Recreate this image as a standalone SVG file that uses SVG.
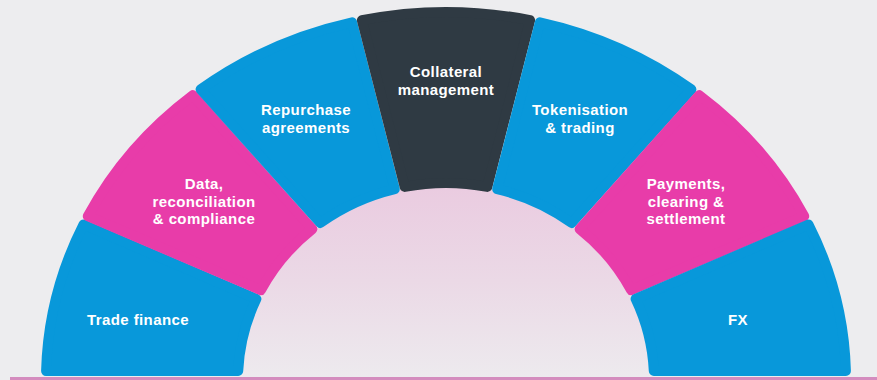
<svg xmlns="http://www.w3.org/2000/svg" width="877" height="380" viewBox="0 0 877 380">
  <defs>
    <linearGradient id="core" x1="0" y1="0" x2="0" y2="1">
      <stop offset="0" stop-color="#EACBE0"/>
      <stop offset="0.5" stop-color="#EBD9E6"/>
      <stop offset="1" stop-color="#EDEAEE"/>
    </linearGradient>
  </defs>
  <style>
    .seg { stroke-width: 10; stroke-linejoin: round; }
    .blue { fill: #0898DA; stroke: #0898DA; }
    .pink { fill: #E83CA9; stroke: #E83CA9; }
    .dark { fill: #2F3A43; stroke: #2F3A43; }
    .lbl { font-family: "Liberation Sans", Arial, sans-serif; font-weight: 700; font-size: 15px; letter-spacing: 0.4px; fill: #FFFFFF; text-anchor: middle; }
  </style>
  <rect x="0" y="0" width="877" height="380" fill="#EDEDEF"/>
  <path d="M 243 377 A 203 192 0 0 1 649 377 Z" fill="url(#core)"/>
  <rect x="10" y="377" width="867" height="3" fill="#D48CBE"/>

  <g id="trade-finance">
    <path class="seg blue" d="M 256.4 298.9 L 83.5 224.5 A 400 368 0 0 0 46.1 371 L 238.2 371 A 208 197 0 0 1 256.4 298.9 Z"/>
    <text class="lbl" x="138" y="325">Trade finance</text>
  </g>
  <g id="data-reconciliation">
    <path class="seg pink" d="M 312.4 229 L 192.7 95.2 A 400 368 0 0 0 87.8 216.2 L 260.9 290.2 A 208 197 0 0 1 312.4 229 Z"/>
    <text class="lbl" x="204" y="189">Data,</text>
    <text class="lbl" x="204" y="206.5">reconciliation</text>
    <text class="lbl" x="204" y="224">&amp; compliance</text>
  </g>
  <g id="repurchase-agreements">
    <path class="seg blue" d="M 394.8 189.1 L 352.1 22.3 A 400 368 0 0 0 200.6 89.4 L 320.3 223 A 208 197 0 0 1 394.8 189.1 Z"/>
    <text class="lbl" x="306" y="115">Repurchase</text>
    <text class="lbl" x="306" y="132.5">agreements</text>
  </g>
  <g id="collateral-management">
    <path class="seg dark" d="M 487.3 186.9 L 530.1 20.2 A 400 368 0 0 0 361.9 20.2 L 404.7 186.9 A 208 197 0 0 1 487.3 186.9 Z"/>
    <text class="lbl" x="446" y="77">Collateral</text>
    <text class="lbl" x="446" y="94.5">management</text>
  </g>
  <g id="tokenisation-trading">
    <path class="seg blue" d="M 571.7 223 L 691.4 89.4 A 400 368 0 0 0 539.9 22.3 L 497.2 189.1 A 208 197 0 0 1 571.7 223 Z"/>
    <text class="lbl" x="580" y="115">Tokenisation</text>
    <text class="lbl" x="580" y="132.5">&amp; trading</text>
  </g>
  <g id="payments-clearing">
    <path class="seg pink" d="M 631.1 290.2 L 804.2 216.2 A 400 368 0 0 0 699.3 95.2 L 579.6 229 A 208 197 0 0 1 631.1 290.2 Z"/>
    <text class="lbl" x="686" y="189">Payments,</text>
    <text class="lbl" x="686" y="206.5">clearing &amp;</text>
    <text class="lbl" x="686" y="224">settlement</text>
  </g>
  <g id="fx">
    <path class="seg blue" d="M 653.8 371 L 845.9 371 A 400 368 0 0 0 808.5 224.5 L 635.6 298.9 A 208 197 0 0 1 653.8 371 Z"/>
    <text class="lbl" x="738" y="325">FX</text>
  </g>
  <g id="connectors"/>
</svg>
